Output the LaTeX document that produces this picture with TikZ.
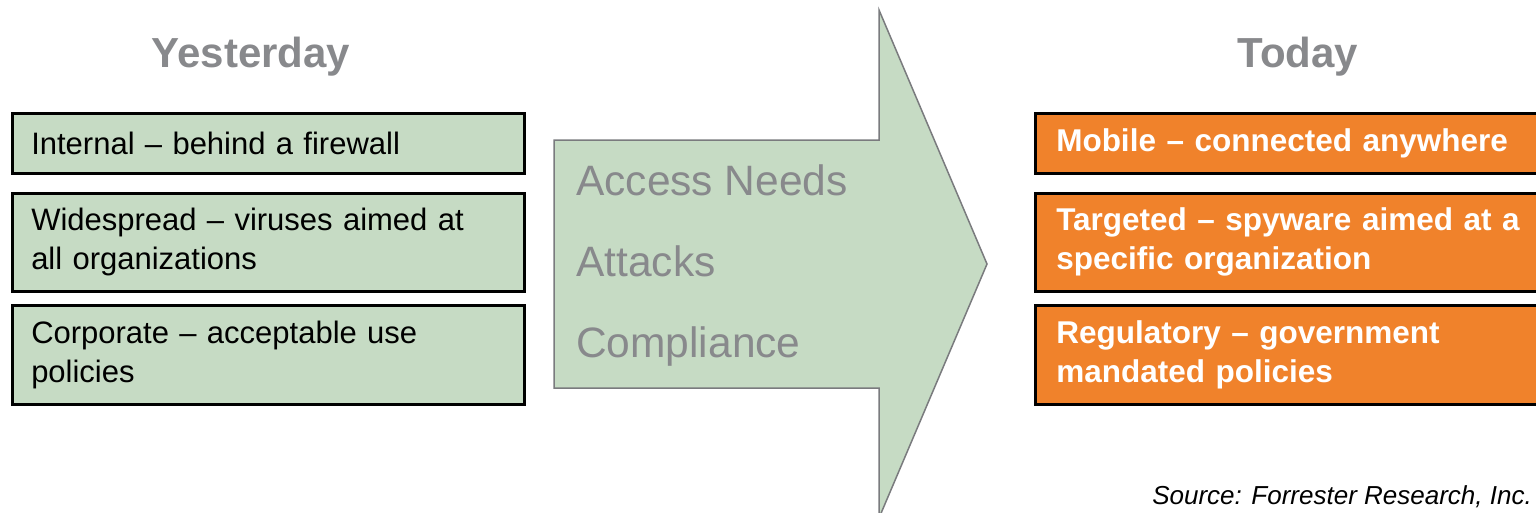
\documentclass[tikz,border=0pt]{standalone}
\usepackage{fontspec}
\setmainfont{Liberation Sans}
\usepackage{tikz}
\usetikzlibrary{positioning,calc}
\definecolor{sage}{HTML}{C6DBC4}
\definecolor{tangerine}{HTML}{F0822B}
\definecolor{slate}{HTML}{88898C}
\tikzset{
oldbox/.style = {draw=black, line width=2.5pt, fill=sage, rectangle, anchor=north west, minimum width=512pt, text width=474pt, inner xsep=19pt, align=left, font=\fontsize{31}{39}\selectfont},
newbox/.style = {draw=black, line width=2.5pt, fill=tangerine, rectangle, anchor=north west, minimum width=512pt, text width=470pt, inner xsep=21pt, align=left, text=white, font=\fontsize{31.5}{39}\selectfont\bfseries},
heading/.style = {text=slate, font=\fontsize{42}{48}\selectfont\bfseries, anchor=base},
topic/.style = {text=slate, font=\fontsize{42.5}{48}\selectfont, anchor=base west, inner sep=0pt},
bigarrow/.style = {draw=slate!90!black, line width=1.5pt, fill=sage}
}

\begin{document}
\begin{tikzpicture}[x=1pt, y=-1pt]
	\useasboundingbox (0,0) rectangle (1536,512);
	\clip (0,0) rectangle (1536,512);
	% column titles
	\node[heading] (yesterday) at (251,67) {Yesterday};
	\node[heading] (today) at (1298,67) {Today};
	% the shift in the middle
	\draw[bigarrow] (554,140) -- (879,140) -- (879,10) -- (987,264) -- (879,518) -- (879,388) -- (554,388) -- cycle;
	\node[topic] (access) at (576,195) {Access Needs};
	\node[topic] (attacks) at (576,276) {Attacks};
	\node[topic] (compliance) at (576,357) {Compliance};
	% before
	\node[oldbox, minimum height=60pt] (internal) at (11,112) {Internal -- behind a firewall};
	\node[oldbox, minimum height=98pt] (widespread) at (11,192) {Widespread -- viruses aimed at\\all organizations};
	\node[oldbox, minimum height=99pt] (corporate) at (11,304) {Corporate -- acceptable use\\policies};
	% after
	\node[newbox, minimum height=60pt] (mobile) at (1034,112) {Mobile -- connected anywhere};
	\node[newbox, minimum height=98pt] (targeted) at (1034,192) {Targeted -- spyware aimed at a\\specific organization};
	\node[newbox, minimum height=99pt] (regulatory) at (1034,304) {Regulatory -- government\\mandated policies};
	\node[anchor=base east, inner sep=0pt, font=\fontsize{26}{30}\selectfont\itshape] (source) at (1532,504) {Source: Forrester Research, Inc.};
\end{tikzpicture}
\end{document}
